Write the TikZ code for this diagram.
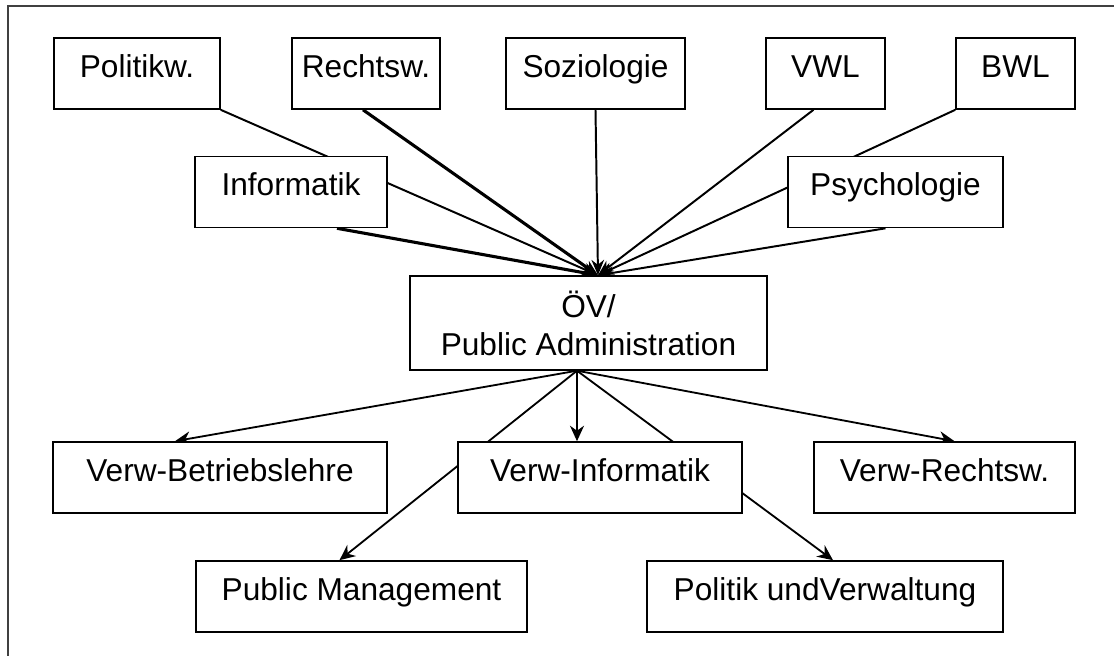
\documentclass[tikz,border=0pt]{standalone}
\usepackage{fontspec}
\setmainfont{Liberation Sans}
\usetikzlibrary{arrows.meta,backgrounds,calc}

\begin{document}
\begin{tikzpicture}[x=0.025cm,y=-0.025cm,
    every node/.style={font=\fontsize{22.5pt}{27pt}\selectfont},
    fach/.style={draw,line width=1pt,fill=white,inner sep=0pt,
      minimum height=1.78cm,text height=0.8em,text depth=0.3em},
    zufluss/.style={line width=1.4pt,-{Stealth[length=11pt,width=9pt]}},
    abfluss/.style={line width=1.3pt,-{Stealth[length=11pt,width=10pt]}}]
      \useasboundingbox (0,0) rectangle (1114,656);

      \draw[black!75,line width=1.4pt] (1120,6) -- (8,6) -- (8,662);



      \node[fach,minimum width=4.15cm] (polw) at (137,73.5) {Politikw.};

      \node[fach,minimum width=3.7cm] (rechtsw) at (366,73.5) {Rechtsw.};

      \node[fach,minimum width=4.475cm] (soz) at (595.5,73.5) {Soziologie};

      \node[fach,minimum width=2.975cm] (vwl) at (825.5,73.5) {VWL};

      \node[fach,minimum width=2.975cm] (bwl) at (1015.5,73.5) {BWL};

      \node[fach,minimum width=4.8cm] (inf) at (291,192) {Informatik};

      \node[fach,minimum width=5.375cm] (psych) at (895.5,192) {Psychologie};



      \node[fach,minimum width=8.925cm,minimum height=2.35cm,align=center,
        text height=,text depth=] (oev) at (588.5,323)
        {ÖV/\\Public Administration};

      \coordinate (oevin) at ($(oev.north)+(9.5,0)$);
      \coordinate (oevout) at ($(oev.south)+(-11.5,0)$);



      \node[fach,minimum width=8.35cm] (vbl) at (220,477.5) {Verw-Betriebslehre};

      \node[fach,minimum width=7.1cm] (vinf) at (600,477.5) {Verw-Informatik};

      \node[fach,minimum width=6.525cm] (vrw) at (944.5,477.5) {Verw-Rechtsw.};

      \node[fach,minimum width=8.275cm] (pm) at (361.5,596.5) {Public Management};

      \node[fach,minimum width=8.9cm] (pv) at (825,596.5) {Politik undVerwaltung};



      \begin{scope}[on background layer]
        \draw[zufluss] (polw.south east) -- (oevin);
        \draw[zufluss,line width=2.2pt] ($(rechtsw.south)+(-3,0)$) -- (oevin);
        \draw[zufluss] (soz.south) -- (oevin);
        \draw[zufluss] ($(vwl.south)+(-12,0)$) -- (oevin);
        \draw[zufluss] (bwl.south west) -- (oevin);
        \draw[zufluss,line width=2.2pt] ($(inf.south)+(46,0)$) -- (oevin);
        \draw[zufluss] ($(psych.south)+(-10,0)$) -- (oevin);

        \draw[abfluss] (oevout) -- ($(vbl.north)+(-45,0)$);
        \draw[abfluss] (oevout) -- (oevout |- vinf.north);
        \draw[abfluss] (oevout) -- ($(vrw.north)+(10,0)$);
        \draw[abfluss] (oevout) -- ($(pm.north)+(-22,0)$);
        \draw[abfluss] (oevout) -- ($(pv.north)+(8,0)$);
      \end{scope}
    \end{tikzpicture}
\end{document}
